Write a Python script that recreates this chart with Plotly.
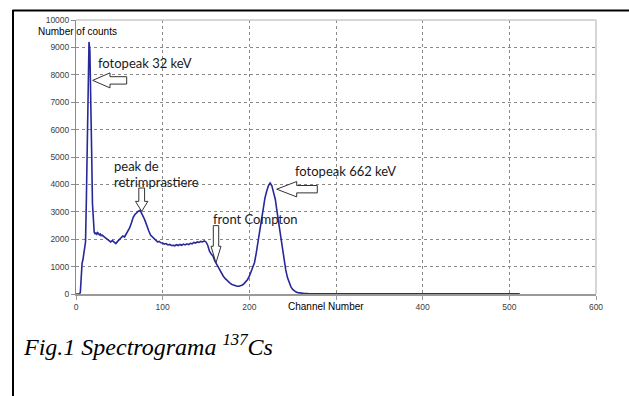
import plotly.graph_objects as go

# ---------------- data ----------------
channels = [0, 1, 2, 3, 4, 5, 6, 7, 8, 9, 10, 11, 12, 13, 14, 15, 16, 17, 18, 19, 20,
            21, 22, 23, 24, 25, 26, 27, 28, 29, 30, 32, 34, 36, 38, 40, 42, 44, 46, 48,
            50, 52, 54, 56, 58, 60, 62, 64, 66, 68, 70, 72, 74, 76, 78, 80, 82, 84, 86,
            88, 90, 92, 94, 96, 98, 100, 102, 104, 106, 108, 110, 112, 114, 116, 118,
            120, 122, 124, 126, 128, 130, 132, 134, 136, 138, 140, 142, 144, 146, 148,
            150, 152, 154, 156, 158, 160, 162, 164, 166, 168, 170, 172, 174, 176, 178,
            180, 182, 184, 186, 188, 190, 192, 194, 196, 198, 200, 202, 204, 206, 208,
            210, 212, 214, 216, 218, 220, 222, 224, 226, 228, 230, 232, 234, 236, 238,
            240, 242, 244, 246, 248, 250, 252, 254, 256, 258, 260, 262, 264, 268, 280,
            300, 350, 400, 450, 500, 512]
counts = [0, 0, 0, 0, 0, 60, 700, 1120, 1250, 1450, 1700, 1900, 3500, 5800, 8000, 9200,
          8900, 7500, 5300, 3300, 2450,
          2250, 2200, 2230, 2180, 2240, 2200, 2160, 2190, 2130, 2150, 2080, 2050, 2000,
          1960, 1900, 1950, 1880, 1840, 1920,
          1990, 2050, 2120, 2080, 2200, 2300, 2420, 2600, 2800, 2900, 2980, 3020, 3050,
          2950, 2800, 2650, 2450, 2300, 2150,
          2080, 2000, 1950, 1900, 1920, 1870, 1860, 1820, 1840, 1790, 1810, 1770, 1780,
          1760, 1800, 1770,
          1810, 1780, 1820, 1790, 1830, 1800, 1850, 1830, 1880, 1860, 1900, 1880, 1920,
          1900, 1940,
          1900, 1780, 1560, 1460, 1390, 1220, 1100, 1000, 850, 740, 650, 570, 500, 440,
          390,
          350, 320, 300, 285, 285, 300, 330, 380, 440, 530, 650, 800, 950, 1150, 1500,
          1900, 2450, 2850, 3200, 3500, 3750, 3950, 4050, 3950, 3700, 3450, 3000, 2550,
          2150, 1700,
          1250, 880, 600, 400, 260, 170, 110, 70, 50, 35, 25, 20, 15, 12, 10,
          10, 10, 10, 10, 8, 8]

x_ticks = [0, 100, 200, 300, 400, 500, 600]
x_tick_text = ["0", "100", "200", "", "400", "500", "600"]
y_ticks = [0, 1000, 2000, 3000, 4000, 5000, 6000, 7000, 8000, 9000, 10000]
y_tick_text = ["0", "1000", "2000", "3000", "4000", "5000", "6000", "7000", "8000",
               "9000", "10000"]

# ---------------- layout helpers (pixel -> paper) ----------------
W, H = 629, 396
L, R, T, B = 76, 596, 20, 294.5


def px(x):
    return (x - L) / (R - L)


def py(y):
    return (B - y) / (B - T)


def left_arrow(tx, ty, hx, ex, hh, sh):
    pts = [(tx, ty), (hx, ty - hh), (hx, ty - sh), (ex, ty - sh),
           (ex, ty + sh), (hx, ty + sh), (hx, ty + hh)]
    return "M " + " L ".join(f"{px(a):.5f},{py(b):.5f}" for a, b in pts) + " Z"


def down_arrow(tx, ty, hy, topy, hh, sh):
    pts = [(tx, ty), (tx - hh, hy), (tx - sh, hy), (tx - sh, topy),
           (tx + sh, topy), (tx + sh, hy), (tx + hh, hy)]
    return "M " + " L ".join(f"{px(a):.5f},{py(b):.5f}" for a, b in pts) + " Z"


fig = go.Figure()
fig.add_trace(go.Scatter(x=channels, y=counts, mode="lines",
                         line=dict(color="#28289a", width=1.6),
                         hoverinfo="skip", showlegend=False))

tick_font = dict(family="Liberation Sans, Arial", size=8.5, color="#404040")
fig.update_xaxes(range=[0, 600], tickvals=x_ticks, ticktext=x_tick_text,
                 showgrid=True, gridcolor="#8a8a8a", griddash="dot", gridwidth=1,
                 showline=True, linecolor="#9a9a9a", linewidth=2,
                 ticks="outside", ticklen=4, tickcolor="#9a9a9a",
                 tickfont=tick_font, zeroline=False, mirror=False)
fig.update_yaxes(range=[0, 10000], tickvals=y_ticks, ticktext=y_tick_text,
                 showgrid=True, gridcolor="#8a8a8a", griddash="dot", gridwidth=1,
                 showline=True, linecolor="#8a8a8a", linewidth=1,
                 ticks="outside", ticklen=4, tickcolor="#8a8a8a",
                 tickfont=tick_font, zeroline=False)

shapes = [
    # light frame on the top and right of the plot area
    dict(type="line", xref="paper", yref="paper", x0=0, x1=1, y0=1, y1=1,
         line=dict(color="#c8c8c8", width=1.5)),
    dict(type="line", xref="paper", yref="paper", x0=1, x1=1, y0=0, y1=1,
         line=dict(color="#c8c8c8", width=1.5)),
    # outer black frame (top and left)
    dict(type="line", xref="paper", yref="paper", x0=px(12.5), x1=px(640),
         y0=py(10.5), y1=py(10.5), line=dict(color="black", width=2)),
    dict(type="line", xref="paper", yref="paper", x0=px(13), x1=px(13),
         y0=py(10), y1=py(400), line=dict(color="black", width=2)),
]
arrow_style = dict(type="path", xref="paper", yref="paper", fillcolor="white",
                   line=dict(color="#333333", width=1))
shapes.append(dict(path=left_arrow(92.7, 80.5, 110, 126.7, 7.5, 3.7), **arrow_style))
shapes.append(dict(path=left_arrow(276.7, 189.5, 296.7, 317.3, 7.7, 3.7), **arrow_style))
shapes.append(dict(path=down_arrow(141.7, 211.7, 201.7, 188.3, 6.2, 2.9), **arrow_style))
shapes.append(dict(path=down_arrow(216, 263.3, 246.7, 226, 5, 2.7), **arrow_style))

ann_font = dict(family="Lato, Open Sans", size=13, color="#1a1a1a")
axis_font = dict(family="Liberation Sans, Arial", size=10, color="black")


def note(text, x, y, font, xanchor="left"):
    return dict(text=text, x=px(x), y=py(y), xref="paper", yref="paper",
                xanchor=xanchor, yanchor="middle", showarrow=False, font=font)


annotations = [
    note("fotopeak 32 keV", 95.7, 63.3, ann_font),
    note("peak de", 111.7, 166, ann_font),
    note("retrimprastiere", 111.7, 182.7, ann_font),
    note("front Compton", 210.5, 219, ann_font),
    note("fotopeak 662 keV", 292.7, 171.7, ann_font),
    note("Number of counts", 77, 31.5, axis_font, "center"),
    note("Channel Number", 325.7, 307, axis_font, "center"),
    note("<i>Fig.1 Spectrograma <sup>137</sup>Cs</i>", 21, 346,
         dict(family="Liberation Serif, Times New Roman", size=24, color="black")),
]

fig.update_layout(width=W, height=H,
                  margin=dict(l=L, r=W - R, t=T, b=H - B, pad=0, autoexpand=False),
                  paper_bgcolor="white", plot_bgcolor="white",
                  shapes=shapes, annotations=annotations, showlegend=False)

fig.write_html("out.html")
